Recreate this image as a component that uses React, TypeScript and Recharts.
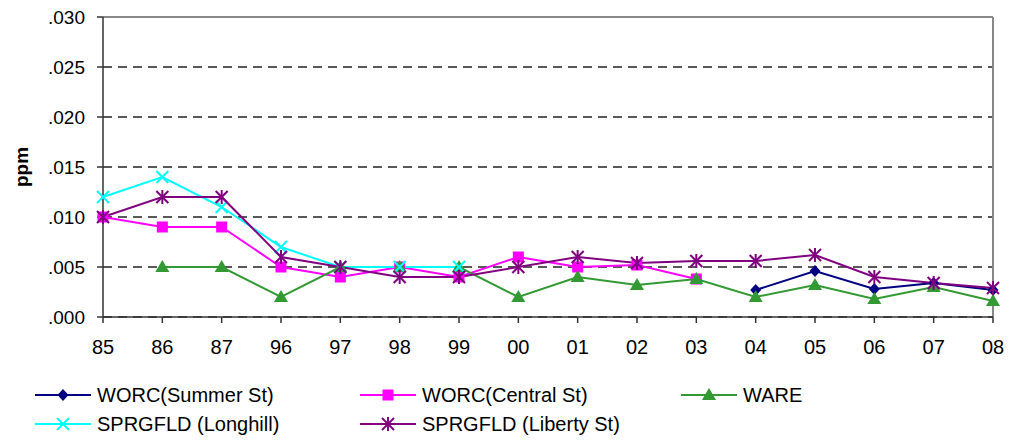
import React from 'react';
import { LineChart, Line, XAxis, YAxis, CartesianGrid, ReferenceLine } from 'recharts';

const years = ['85', '86', '87', '96', '97', '98', '99', '00', '01', '02', '03', '04', '05', '06', '07', '08'];
const summerSt = [null, null, null, null, null, null, null, null, null, null, null, 0.0027, 0.0046, 0.0028, 0.0034, 0.0027];
const centralSt = [0.010, 0.009, 0.009, 0.005, 0.004, 0.005, 0.004, 0.006, 0.005, 0.0052, 0.0038, null, null, null, null, null];
const ware = [null, 0.005, 0.005, 0.002, 0.005, 0.005, 0.005, 0.002, 0.004, 0.0032, 0.0038, 0.002, 0.0032, 0.0018, 0.003, 0.0016];
const longhill = [0.012, 0.014, 0.011, 0.007, 0.005, 0.005, 0.005, null, null, null, null, null, null, null, null, null];
const libertySt = [0.010, 0.012, 0.012, 0.006, 0.005, 0.004, 0.004, 0.005, 0.006, 0.0054, 0.0056, 0.0056, 0.0062, 0.004, 0.0034, 0.0029];
const yTicks = [0, 0.005, 0.01, 0.015, 0.02, 0.025, 0.03];

const data = years.map((y, i) => ({
    year: y,
    summer: summerSt[i],
    central: centralSt[i],
    ware: ware[i],
    longhill: longhill[i],
    liberty: libertySt[i],
}));

const FONT = '"Liberation Sans", Arial, sans-serif';

// marker shapes, shared by the series and the legend
function Marker({ kind, cx, cy, color }: { kind: string; cx: number; cy: number; color: string }) {
    if (kind === 'diamond') {
        return <polygon points={`${cx},${cy - 6} ${cx + 5.5},${cy} ${cx},${cy + 6} ${cx - 5.5},${cy}`} fill={color} />;
    }
    if (kind === 'square') {
        return <rect x={cx - 5.5} y={cy - 5.5} width={11} height={11} fill={color} />;
    }
    if (kind === 'triangle') {
        return <polygon points={`${cx},${cy - 7} ${cx + 7},${cy + 5} ${cx - 7},${cy + 5}`} fill={color} />;
    }
    if (kind === 'x') {
        return (
            <g stroke={color} strokeWidth={2}>
                <line x1={cx - 6} y1={cy - 6} x2={cx + 6} y2={cy + 6} />
                <line x1={cx - 6} y1={cy + 6} x2={cx + 6} y2={cy - 6} />
            </g>
        );
    }
    return (
        <g stroke={color} strokeWidth={2}>
            <line x1={cx - 6} y1={cy - 6} x2={cx + 6} y2={cy + 6} />
            <line x1={cx - 6} y1={cy + 6} x2={cx + 6} y2={cy - 6} />
            <line x1={cx} y1={cy - 7} x2={cx} y2={cy + 7} />
        </g>
    );
}

const makeDot = (kind: string, color: string) => (props: any) => {
    const { cx, cy, value, index } = props;
    if (value == null || cx == null || cy == null) return <g key={`n-${index}`} />;
    return <Marker key={`${kind}-${index}`} kind={kind} cx={cx} cy={cy} color={color} />;
};

const series = [
    { key: 'summer', name: 'WORC(Summer St)', color: '#000080', kind: 'diamond' },
    { key: 'central', name: 'WORC(Central St)', color: '#FF00FF', kind: 'square' },
    { key: 'ware', name: 'WARE', color: '#339933', kind: 'triangle' },
    { key: 'longhill', name: 'SPRGFLD (Longhill)', color: '#00FFFF', kind: 'x' },
    { key: 'liberty', name: 'SPRGFLD (Liberty St)', color: '#800080', kind: 'star' },
];

const legendPos = [
    { left: 35, top: 395 },
    { left: 360, top: 395 },
    { left: 681, top: 395 },
    { left: 35, top: 424 },
    { left: 360, top: 424 },
];

export default function App() {
    return (
        <div style={{ position: 'absolute', left: 0, top: 0, width: 1011, height: 446, background: '#fff', fontFamily: FONT }}>
            <LineChart width={1011} height={446} data={data} margin={{ top: 17, right: 18, bottom: 89, left: 0 }}>
                <CartesianGrid vertical={false} stroke="#222" strokeWidth={1.4} strokeDasharray="9 6" />
                <XAxis
                    dataKey="year"
                    height={40}
                    padding={{ left: 0, right: 0 }}
                    stroke="#333"
                    strokeWidth={1.5}
                    tickSize={6}
                    tickMargin={17}
                    tick={{ fill: '#000', fontSize: 20, fontFamily: FONT }}
                    interval={0}
                />
                <YAxis
                    width={103}
                    domain={[0, 0.03]}
                    ticks={yTicks}
                    stroke="#333"
                    strokeWidth={1.5}
                    tickSize={6}
                    tickMargin={12}
                    tick={{ fill: '#000', fontSize: 19, fontFamily: FONT }}
                    tickFormatter={(v: number) => v.toFixed(3).replace(/^0/, '')}
                    label={{
                        content: () => (
                            <text x={0} y={0} transform="translate(28,167) rotate(-90)" textAnchor="middle" fontSize={19} fontWeight="bold" fontFamily={FONT} fill="#000">
                                ppm
                            </text>
                        ),
                    }}
                />
                <ReferenceLine y={0.03} stroke="#888" strokeWidth={2} />
                <ReferenceLine x="08" stroke="#888" strokeWidth={2} />
                {series.map((s) => (
                    <Line
                        key={s.key}
                        type="linear"
                        dataKey={s.key}
                        name={s.name}
                        stroke={s.color}
                        strokeWidth={2}
                        dot={makeDot(s.kind, s.color)}
                        activeDot={false}
                        connectNulls={false}
                        isAnimationActive={false}
                    />
                ))}
            </LineChart>
            {series.map((s, i) => (
                <div
                    key={s.key}
                    style={{
                        position: 'absolute',
                        left: legendPos[i].left,
                        top: legendPos[i].top - 11,
                        height: 22,
                        display: 'flex',
                        alignItems: 'center',
                        whiteSpace: 'nowrap',
                    }}
                >
                    <svg width={56} height={22} style={{ display: 'block' }}>
                        <line x1={0} y1={11} x2={56} y2={11} stroke={s.color} strokeWidth={2} />
                        <Marker kind={s.kind} cx={28} cy={11} color={s.color} />
                    </svg>
                    <span style={{ marginLeft: 6, fontSize: 20, color: '#000', lineHeight: '22px' }}>{s.name}</span>
                </div>
            ))}
        </div>
    );
}
